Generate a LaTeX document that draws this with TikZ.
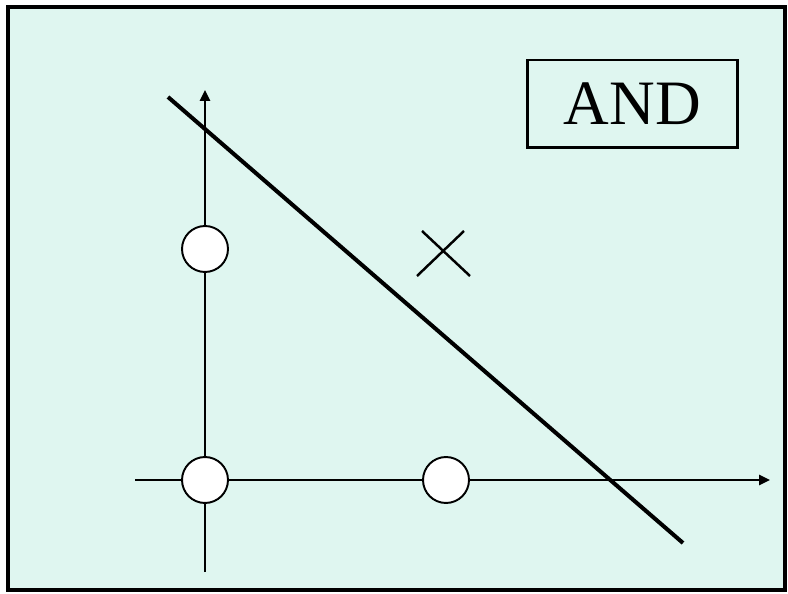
\documentclass[tikz,border=0pt]{standalone}
\usepackage{fontspec}
\setmainfont{Liberation Serif}
\usetikzlibrary{arrows.meta}
\definecolor{mint}{RGB}{223,246,240}

\begin{document}
\begin{tikzpicture}[
  x=0.02cm,y=-0.02cm,
  % Frame round the whole plot, filled with the pale background.
  frame/.style={draw,line width=2.4pt,fill=mint},
  axis/.style={-{Triangle[length=2.2mm,width=2mm]},line width=1.4pt},
  sepline/.style={line width=2.3pt},
  sample/.style={circle,draw,fill=white,line width=1.1pt,minimum size=0.92cm,inner sep=0pt},
  cross/.style={line width=1.4pt},
  tag/.style={draw,line width=1.7pt,minimum width=4.22cm,minimum height=1.76cm,
    font=\fontsize{36}{40}\selectfont},
]

%--- geometry (pixels of the original) ---------------------------------------
\def\ox{205}          % origin, horizontal
\def\oy{480}          % origin, vertical
\def\one{446}         % x = 1 on the horizontal axis
\def\up{249}          % y = 1 on the vertical axis

\useasboundingbox (0,0) rectangle (788,594);
\draw[frame] (8,7) rectangle (785,590);

%--- axes --------------------------------------------------------------------
\coordinate (xL) at (135,\oy);
\coordinate (xR) at (770,\oy);
\coordinate (yB) at (\ox,572);
\coordinate (yT) at (\ox,90);
\draw[axis] (xL) -- (xR);
\draw[axis] (yB) -- (yT);

%--- the separating line -----------------------------------------------------
\coordinate (sepA) at (168,97);
\coordinate (sepB) at (683,543);
\draw[sepline] (sepA) -- (sepB);

%--- samples: three zeros and one one ----------------------------------------
\node[sample] (s00) at (\ox,\oy) {};
\node[sample] (s10) at (\one,\oy) {};
\node[sample] (s01) at (\ox,\up) {};

% The positive sample (1,1) is marked with a cross.
\draw[cross] (422,231) -- (470,276);
\draw[cross] (464,231) -- (417,276);

\node[tag] (gate) at (632.5,104) {AND};

\end{tikzpicture}
\end{document}
